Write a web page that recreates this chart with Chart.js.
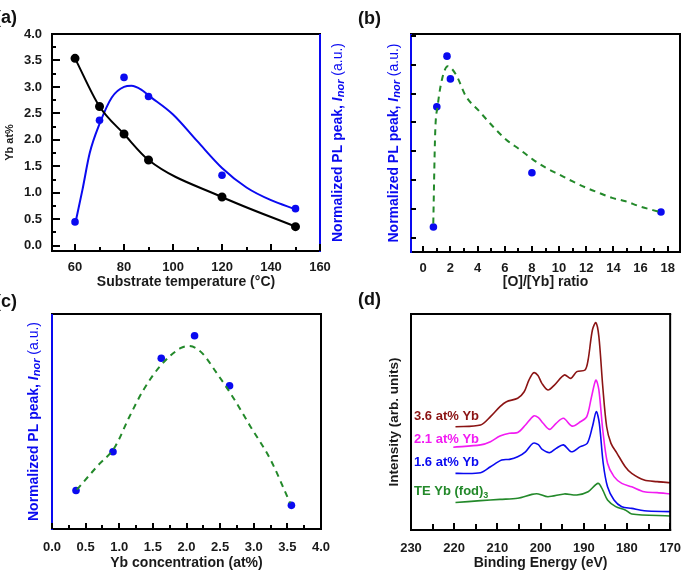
<!DOCTYPE html>
<html>
<head>
<meta charset="utf-8">
<script src="https://cdn.jsdelivr.net/npm/chart.js@4.4.1/dist/chart.umd.min.js"></script>
<style>
  body { margin: 0; background: #fff; }
  #wrap { position: relative; width: 692px; height: 580px; overflow: hidden; }
  canvas { position: absolute; }
  .tag { position: absolute; font: bold 18px "Liberation Sans", Arial, sans-serif; color: #111; }
</style>
</head>
<body>
<div id="wrap">
  <canvas id="ca" width="346" height="290" style="left:0;top:0"></canvas>
  <canvas id="cb" width="346" height="290" style="left:346px;top:0"></canvas>
  <canvas id="cc" width="346" height="290" style="left:0;top:290px"></canvas>
  <canvas id="cd" width="346" height="290" style="left:346px;top:290px"></canvas>
  <div class="tag" style="left:-5px;top:7px">(a)</div>
  <div class="tag" style="left:358px;top:8px">(b)</div>
  <div class="tag" style="left:-5px;top:291px">(c)</div>
  <div class="tag" style="left:358px;top:289px">(d)</div>
</div>
<script>
// ---- (a) substrate temperature series
const tempC = [60, 70, 80, 90, 120, 150];
const ybAtPct = [3.54, 2.63, 2.11, 1.62, 0.92, 0.36];
const plA = [0.45, 2.37, 3.18, 2.82, 1.33, 0.70];
const fitAx = [60, 63, 66, 70, 75, 80, 83, 87, 90, 100, 110, 120, 130, 140, 150];
const fitAy = [0.40, 1.05, 1.75, 2.30, 2.80, 3.00, 3.02, 2.95, 2.84, 2.48, 1.97, 1.47, 1.10, 0.86, 0.69];
const ticksAx = [60, 80, 100, 120, 140, 160];
const ticksAy = [0, 0.5, 1, 1.5, 2, 2.5, 3, 3.5, 4];

// ---- (b) [O]/[Yb] ratio
const ratioOYb = [0.75, 1.0, 1.75, 2.0, 8.0, 17.5];
const plB = [1.37, 5.54, 7.30, 6.51, 3.25, 1.89];
const fitBx = [0.74, 0.88, 1.06, 1.38, 1.80, 2.41, 3.14, 4.12, 5.13, 6.11, 7.10, 8.08, 9.04, 10.0, 11.0, 12.0, 12.96, 13.9, 14.9, 15.9, 17.4];
const fitBy = [1.49, 4.63, 5.56, 6.49, 6.95, 6.66, 5.91, 5.39, 4.86, 4.40, 4.06, 3.71, 3.42, 3.19, 2.95, 2.73, 2.55, 2.38, 2.26, 2.09, 1.89];
const ticksBx = [0, 2, 4, 6, 8, 10, 12, 14, 16, 18];

// ---- (c) Yb concentration
const ybConc = [0.357, 0.907, 1.625, 2.12, 2.64, 3.56];
const plC = [1.79, 3.59, 7.94, 8.99, 6.66, 1.10];
const fitCx = [0.37, 0.67, 0.94, 1.14, 1.36, 1.61, 1.91, 2.03, 2.21, 2.45, 2.70, 2.95, 3.25, 3.54];
const fitCy = [1.83, 2.91, 3.84, 5.15, 6.47, 7.58, 8.41, 8.51, 8.25, 7.25, 6.08, 4.77, 3.22, 1.21];
const ticksCx = [0, 0.5, 1, 1.5, 2, 2.5, 3, 3.5, 4];

// ---- (d) XPS spectra, binding energy (eV) vs intensity (arb.)
const e36 = [219.7, 213.9, 211.6, 209.4, 207.9, 205.3, 203.8, 202.7, 201.6, 200.6, 199.7, 198.3, 196.8, 194.5, 193.0, 191.6, 189.7, 189.0, 188.0, 187.2, 186.5, 185.6, 184.7, 183.7, 182.3, 180.4, 178.9, 176.0, 173.0, 170.0];
const i36 = [47.8, 48.6, 52.5, 57.1, 59.4, 61.0, 64.0, 69.4, 72.8, 71.5, 67.9, 64.8, 67.1, 71.8, 70.2, 73.3, 74.1, 78.7, 92.6, 96.0, 89.5, 66.3, 47.8, 40.1, 35.5, 29.3, 26.2, 23.1, 22.4, 21.9];
const e21 = [220.2, 213.9, 211.6, 209.4, 207.2, 205.3, 203.5, 201.6, 200.5, 199.4, 197.9, 196.4, 194.7, 192.7, 190.8, 189.3, 188.2, 187.2, 186.5, 185.6, 184.5, 183.0, 181.2, 178.9, 176.0, 173.0, 170.0];
const i21 = [38.3, 39.4, 40.9, 43.5, 44.8, 45.1, 48.6, 52.8, 52.0, 49.4, 46.6, 49.4, 51.7, 48.1, 50.1, 52.5, 61.7, 69.4, 64.8, 46.3, 30.9, 24.7, 21.6, 20.0, 17.7, 17.3, 16.7];
const e16 = [219.7, 213.9, 211.6, 209.0, 207.2, 205.3, 203.5, 201.8, 200.5, 199.7, 197.9, 196.4, 194.7, 192.9, 190.8, 189.2, 188.0, 187.1, 186.4, 185.5, 184.5, 183.0, 181.2, 178.9, 176.0, 170.0];
const i16 = [26.2, 26.5, 29.3, 32.4, 32.7, 33.9, 36.2, 40.1, 39.5, 37.4, 35.8, 37.8, 39.4, 36.2, 38.6, 40.1, 47.8, 54.8, 49.4, 30.9, 20.0, 13.9, 10.8, 10.0, 8.9, 8.5];
const eTE = [219.7, 213.9, 209.4, 205.3, 202.0, 200.5, 198.3, 194.5, 191.6, 189.0, 186.7, 185.6, 184.5, 182.6, 180.4, 178.9, 170.0];
const iTE = [12.7, 13.6, 14.2, 14.7, 16.5, 16.7, 15.4, 16.7, 16.2, 17.7, 21.6, 18.5, 13.9, 10.8, 9.3, 7.4, 6.5];
const ticksDx = [230, 220, 210, 200, 190, 180, 170];

const FONT = '"Liberation Sans", Arial, sans-serif';
const BLUE = '#0a0af0';
const GREEN = '#23892a';
const BROWN = '#8b1414';
const MAGENTA = '#f21cf2';
const TXT = '#1a1a1a';

Chart.defaults.font.family = FONT;
Chart.defaults.animation = false;

const pts = (xs, ys) => xs.map((x, i) => ({ x, y: ys[i] }));

function drawRich(ctx, x, y, parts, rot, align) {
  ctx.save();
  ctx.translate(x, y);
  ctx.rotate(rot);
  let total = 0;
  parts.forEach(p => { ctx.font = p.font; total += ctx.measureText(p.text).width; });
  let cx = align === 'left' ? 0 : -total / 2;
  ctx.textBaseline = 'middle';
  ctx.textAlign = 'left';
  parts.forEach(p => {
    ctx.font = p.font;
    ctx.fillStyle = p.color;
    ctx.fillText(p.text, cx, p.dy || 0);
    cx += ctx.measureText(p.text).width;
  });
  ctx.restore();
}

// frame, inward tick marks and rich-text titles
function decor(cfg) {
  return {
    id: 'decor',
    afterDraw(chart) {
      const { ctx, chartArea: a } = chart;
      ctx.save();
      ctx.setLineDash([]);
      ctx.globalAlpha = 1;
      ctx.lineWidth = 2;
      const f = cfg.frame;
      const side = (c, x1, y1, x2, y2) => {
        ctx.strokeStyle = c; ctx.beginPath(); ctx.moveTo(x1, y1); ctx.lineTo(x2, y2); ctx.stroke();
      };
      side(f.top, a.left - 1, a.top, a.right + 1, a.top);
      side(f.bottom, a.left - 1, a.bottom, a.right + 1, a.bottom);
      side(f.right, a.right, a.top, a.right, a.bottom + 1);
      side(f.left, a.left, a.top, a.left, a.bottom + 1);

      // tick marks: pixel from the axis range and the chart area
      ctx.fillStyle = '#000';
      (cfg.marks || []).forEach(t => {
        const lo = Math.min(t.min, t.max), hi = Math.max(t.min, t.max);
        const n0 = Math.ceil(lo / t.minor - 1e-9), n1 = Math.floor(hi / t.minor + 1e-9);
        for (let n = n0; n <= n1; n++) {
          const v = n * t.minor;
          const r = v / t.major;
          const len = Math.abs(r - Math.round(r)) < 1e-6 ? t.majorLen : t.minorLen;
          let frac = (v - t.min) / (t.max - t.min);
          if (t.reverse) frac = 1 - frac;
          if (t.axis === 'x') {
            const p = Math.round(a.left + frac * (a.right - a.left));
            ctx.fillRect(p - 1, a.bottom - len, 2, len);
          } else {
            const p = Math.round(a.bottom - frac * (a.bottom - a.top));
            ctx.fillRect(a.left, p - 1, len, 2);
          }
        }
      });

      (cfg.titles || []).forEach(t => {
        const x = t.side === 'left' ? a.left + t.offset : a.right + t.offset;
        drawRich(ctx, x, (a.top + a.bottom) / 2, t.parts, -Math.PI / 2, 'center');
      });
      (cfg.labels || []).forEach(l => {
        drawRich(ctx, chart.scales.x.getPixelForValue(l.x), chart.scales.y.getPixelForValue(l.y), l.parts, 0, 'left');
      });
      ctx.restore();
    }
  };
}

const tickFont = { size: 13, weight: 'bold' };
const titleFont = { size: 14, weight: 'bold' };

function plTitle(offset, sideName) {
  return {
    side: sideName, offset,
    parts: [
      { text: 'Normalized PL peak, ', font: 'bold 14px ' + FONT, color: BLUE },
      { text: 'I', font: 'italic bold 14px ' + FONT, color: BLUE },
      { text: 'nor', font: 'italic bold 11px ' + FONT, color: BLUE, dy: 3 },
      { text: ' (a.u.)', font: '14px ' + FONT, color: BLUE }
    ]
  };
}

function xAxis(cfg) {
  return {
    type: 'linear', position: 'bottom', min: cfg.min, max: cfg.max, reverse: !!cfg.reverse,
    grid: { display: false, drawTicks: false },
    border: { display: false },
    afterBuildTicks: s => { s.ticks = cfg.ticks.map(v => ({ value: v })); },
    afterFit: s => { s.height = cfg.height; },
    ticks: { font: tickFont, color: TXT, padding: cfg.pad, maxRotation: 0, autoSkip: false, callback: cfg.fmt },
    title: { display: true, text: cfg.title, font: titleFont, color: TXT, padding: { top: 0, bottom: -1 } }
  };
}

function yAxis(cfg) {
  return {
    type: 'linear', position: cfg.position || 'left', min: cfg.min, max: cfg.max,
    grid: { display: false, drawTicks: false },
    border: { display: false },
    afterBuildTicks: cfg.ticks ? (s => { s.ticks = cfg.ticks.map(v => ({ value: v })); }) : undefined,
    afterFit: s => { s.width = cfg.width; },
    ticks: { display: !!cfg.ticks, font: tickFont, color: TXT, padding: 10, callback: v => v.toFixed(1) }
  };
}

const base = (padding) => ({
  responsive: false,
  devicePixelRatio: 1,
  layout: { padding },
  plugins: { legend: { display: false }, tooltip: { enabled: false } }
});

// ---------- (a)
new Chart(document.getElementById('ca'), {
  type: 'scatter',
  data: {
    datasets: [
      { data: pts(tempC, ybAtPct), yAxisID: 'y', showLine: true, cubicInterpolationMode: 'monotone',
        borderColor: '#000', backgroundColor: '#000', borderWidth: 2, pointRadius: 3.5 },
      { data: pts(fitAx, fitAy), yAxisID: 'y2', showLine: true, cubicInterpolationMode: 'monotone',
        borderColor: BLUE, borderWidth: 2, pointRadius: 0 },
      { data: pts(tempC, plA), yAxisID: 'y2', borderColor: BLUE, backgroundColor: BLUE, pointRadius: 3.8, borderWidth: 0 }
    ]
  },
  options: Object.assign(base({ top: 34, left: 0, right: 0, bottom: 0 }), {
    scales: {
      x: xAxis({ min: 50.6, max: 160, ticks: ticksAx, height: 39, pad: 9, title: 'Substrate temperature (\u00B0C)', fmt: v => v }),
      y: yAxis({ min: -0.1, max: 4.0, ticks: ticksAy, width: 52 }),
      y2: yAxis({ min: -0.1, max: 4.0, width: 26, position: 'right' })
    }
  }),
  plugins: [decor({
    frame: { top: '#000', bottom: '#000', left: '#000', right: BLUE },
    marks: [
      { axis: 'x', min: 50.6, max: 160, minor: 10, major: 20, minorLen: 4, majorLen: 7 },
      { axis: 'y', min: -0.1, max: 4.0, minor: 0.25, major: 0.5, minorLen: 4, majorLen: 8 }
    ],
    titles: [
      { side: 'left', offset: -42, parts: [{ text: 'Yb at%', font: 'bold 11px ' + FONT, color: TXT }] },
      plTitle(18, 'right')
    ]
  })]
});

// ---------- (b)
new Chart(document.getElementById('cb'), {
  type: 'scatter',
  data: {
    datasets: [
      { data: pts(fitBx, fitBy), showLine: true, cubicInterpolationMode: 'monotone', borderColor: GREEN,
        borderDash: [6, 5], borderWidth: 2, pointRadius: 0 },
      { data: pts(ratioOYb, plB), borderColor: BLUE, backgroundColor: BLUE, pointRadius: 3.8, borderWidth: 0 }
    ]
  },
  options: Object.assign(base({ top: 34, left: 0, right: 12, bottom: 0 }), {
    scales: {
      x: xAxis({ min: -0.9, max: 18.9, ticks: ticksBx, height: 38, pad: 9, title: '[O]/[Yb] ratio', fmt: v => v }),
      y: yAxis({ min: 0.5, max: 8.07, width: 65 })
    }
  }),
  plugins: [decor({
    frame: { top: '#000', bottom: '#000', left: BLUE, right: '#000' },
    marks: [
      { axis: 'x', min: -0.9, max: 18.9, minor: 1, major: 2, minorLen: 4, majorLen: 6 },
      { axis: 'y', min: 0.5, max: 8.07, minor: 1, major: 1, minorLen: 5, majorLen: 5 }
    ],
    titles: [plTitle(-17, 'left')]
  })]
});

// ---------- (c)
new Chart(document.getElementById('cc'), {
  type: 'scatter',
  data: {
    datasets: [
      { data: pts(fitCx, fitCy), showLine: true, cubicInterpolationMode: 'monotone', borderColor: GREEN,
        borderDash: [6, 5], borderWidth: 2, pointRadius: 0 },
      { data: pts(ybConc, plC), borderColor: BLUE, backgroundColor: BLUE, pointRadius: 3.8, borderWidth: 0 }
    ]
  },
  options: Object.assign(base({ top: 24, left: 0, right: 25, bottom: 9 }), {
    scales: {
      x: xAxis({ min: 0, max: 4, ticks: ticksCx, height: 42, pad: 11, title: 'Yb concentration (at%)', fmt: v => v.toFixed(1) }),
      y: yAxis({ min: 0, max: 10, width: 52 })
    }
  }),
  plugins: [decor({
    frame: { top: '#000', bottom: '#000', left: BLUE, right: '#000' },
    marks: [{ axis: 'x', min: 0, max: 4, minor: 0.25, major: 0.5, minorLen: 4, majorLen: 6 }],
    titles: [plTitle(-18, 'left')]
  })]
});

// ---------- (d)
const spec = (xs, ys, c) => ({ data: pts(xs, ys), showLine: true, borderColor: c, borderWidth: 1.6, pointRadius: 0, tension: 0.3 });
new Chart(document.getElementById('cd'), {
  type: 'scatter',
  data: {
    datasets: [
      spec(e36, i36, BROWN),
      spec(e21, i21, MAGENTA),
      spec(e16, i16, BLUE),
      spec(eTE, iTE, GREEN)
    ]
  },
  options: Object.assign(base({ top: 24, left: 0, right: 12, bottom: 9 }), {
    scales: {
      x: xAxis({ min: 170, max: 230, reverse: true, ticks: ticksDx, height: 41, pad: 11, title: 'Binding Energy (eV)', fmt: v => v }),
      y: yAxis({ min: 0, max: 100, width: 65 })
    }
  }),
  plugins: [decor({
    frame: { top: '#000', bottom: '#000', left: '#000', right: '#000' },
    marks: [{ axis: 'x', min: 170, max: 230, reverse: true, minor: 5, major: 10, minorLen: 6, majorLen: 7 }],
    titles: [{ side: 'left', offset: -17, parts: [{ text: 'Intensity (arb. units)', font: 'bold 13.5px ' + FONT, color: TXT }] }],
    labels: [
      { x: 229.3, y: 52.5, parts: [{ text: '3.6 at% Yb', font: 'bold 13px ' + FONT, color: BROWN }] },
      { x: 229.3, y: 42.0, parts: [{ text: '2.1 at% Yb', font: 'bold 13px ' + FONT, color: MAGENTA }] },
      { x: 229.3, y: 31.2, parts: [{ text: '1.6 at% Yb', font: 'bold 13px ' + FONT, color: BLUE }] },
      { x: 229.3, y: 17.7, parts: [
        { text: 'TE Yb (fod)', font: 'bold 13px ' + FONT, color: GREEN },
        { text: '3', font: 'bold 9px ' + FONT, color: GREEN, dy: 4 }
      ] }
    ]
  })]
});
</script>
</body>
</html>
